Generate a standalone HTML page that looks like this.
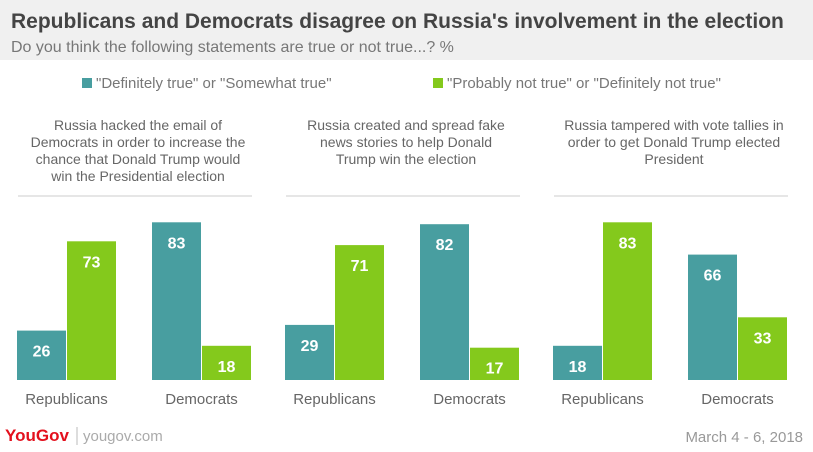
<!DOCTYPE html>
<html><head><meta charset="utf-8"><style>
body{margin:0;width:813px;height:452px;background:#fff;font-family:"Liberation Sans",sans-serif;overflow:hidden;position:relative}
#hdr{position:absolute;left:0;top:0;width:813px;height:60px;background:#f0f0f0}
</style></head><body>
<div id="hdr"></div>
<svg id="c" width="813" height="452" style="position:absolute;left:0;top:0">
<text x="11" y="28" font-size="21" font-weight="bold" fill="#444">Republicans and Democrats disagree on Russia's involvement in the election</text>
<text x="11" y="52" font-size="16" fill="#777">Do you think the following statements are true or not true...? %</text>
<rect x="82" y="78" width="10" height="10" fill="#489ea0"/>
<text x="96" y="88" font-size="15" fill="#777">"Definitely true" or "Somewhat true"</text>
<rect x="433" y="78" width="10" height="10" fill="#84c91c"/>
<text x="447" y="88" font-size="15" fill="#777">"Probably not true" or "Definitely not true"</text>
<text x="5" y="441" font-size="17" font-weight="bold" fill="#e3101d">YouGov</text>
<line x1="77" y1="427" x2="77" y2="445" stroke="#bbb"/>
<text x="83" y="441" font-size="15" fill="#aaa">yougov.com</text>
<text x="803" y="442" font-size="15" fill="#999" text-anchor="end">March 4 - 6, 2018</text>
</svg>
<script>
const panels=[["Russia hacked the email of","Democrats in order to increase the","chance that Donald Trump would","win the Presidential election"],["Russia created and spread fake","news stories to help Donald","Trump win the election"],["Russia tampered with vote tallies in","order to get Donald Trump elected","President"]];
const groups=["Republicans","Democrats"];
const trueVals=[[26,83],[29,82],[18,66]];
const notTrueVals=[[73,18],[71,17],[83,33]];
const svg=document.getElementById('c');const NS='http://www.w3.org/2000/svg';
const base=380,scale=1.9;
function y(v){return base-v*scale;}
function mk(t,a){const e=document.createElementNS(NS,t);for(const k in a)e.setAttribute(k,a[k]);svg.appendChild(e);return e;}
panels.forEach((lines,p)=>{
 const x0=12+p*268,cx=x0+126;
 lines.forEach((l,i)=>{const t=mk('text',{x:cx,y:130+i*17,'font-size':14,fill:'#666','text-anchor':'middle'});t.textContent=l;
 
 });
 const ln=mk('line',{x1:x0+6,x2:x0+240,y1:196,y2:196,stroke:'#ccc'});
 
 
 groups.forEach((g,gi)=>{
  const gx=x0+5+gi*135;
  [[trueVals[p][gi],'#489ea0','true'],[notTrueVals[p][gi],'#84c91c','not-true']].forEach(([v,c,n],si)=>{
   const bx=gx+si*50;
   const r=mk('rect',{x:bx,y:y(v),width:49,height:base-y(v),fill:c});
   
   
   const tt=mk('text',{x:bx+24.5,y:y(v)+26,'font-size':16,'font-weight':'bold',fill:'#fff','text-anchor':'middle'});tt.textContent=v;
   
   
  });
  const gl=mk('text',{x:gx+49.5,y:404,'font-size':15,fill:'#666','text-anchor':'middle'});gl.textContent=g;
  
  
 });
});
</script>
</body></html>
